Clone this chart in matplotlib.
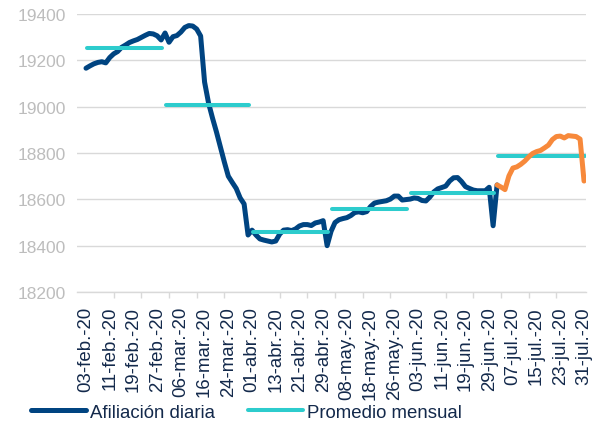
import numpy as np
import matplotlib
matplotlib.use("Agg")
import matplotlib.pyplot as plt
from matplotlib.ticker import FixedLocator

plt.rcParams['font.family'] = ['Liberation Sans', 'DejaVu Sans']

# afiliacion diaria (miles), dias habiles por mes
feb = [19166, 19176, 19185, 19191, 19194, 19189, 19212, 19228, 19238, 19256,
       19266, 19277, 19284, 19290, 19299, 19308, 19316, 19314, 19306, 19288]
mar = [19318, 19278, 19302, 19307, 19322, 19342, 19350, 19348, 19335, 19305,
       19106, 19016, 18951, 18891, 18826, 18761, 18700, 18673, 18647, 18606,
       18580, 18446]
abr = [18467, 18446, 18429, 18424, 18420, 18416, 18420, 18450, 18467, 18469,
       18465, 18472, 18485, 18491, 18491, 18487, 18498, 18502, 18508, 18400]
may = [18462, 18500, 18512, 18517, 18521, 18530, 18543, 18546, 18542, 18547,
       18569, 18584, 18588, 18591, 18594, 18601, 18614, 18614, 18597, 18599]
jun = [18601, 18606, 18604, 18595, 18593, 18610, 18632, 18645, 18651, 18657,
       18679, 18693, 18694, 18677, 18655, 18647, 18640, 18637, 18637, 18637,
       18652, 18486]
jul = [18662, 18653, 18642, 18701, 18735, 18740, 18751, 18765, 18783, 18798,
       18806, 18811, 18822, 18834, 18858, 18871, 18873, 18865, 18875, 18873,
       18871, 18860, 18679]

promedio = [19252, 19007, 18460, 18558, 18626, 18788]

etiquetas = ['03-feb.-20', '11-feb.-20', '19-feb.-20', '27-feb.-20', '06-mar.-20',
             '16-mar.-20', '24-mar.-20', '01-abr.-20', '13-abr.-20', '21-abr.-20',
             '29-abr.-20', '08-may.-20', '18-may.-20', '26-may.-20', '03-jun.-20',
             '11-jun.-20', '19-jun.-20', '29-jun.-20', '07-jul.-20', '15-jul.-20',
             '23-jul.-20', '31-jul.-20']

meses = [feb, mar, abr, may, jun, jul]
diaria = np.concatenate(meses)
x = np.arange(len(diaria))
n_jul = len(diaria) - len(jul)

azul = '#004481'
aqua = '#2DCCCD'
naranja = '#F7893B'
texto = '#13294B'

fig = plt.figure(figsize=(6.05, 4.27), dpi=100)
ax = fig.add_axes([77 / 605, 1 - 293 / 427, 509 / 605, 278 / 427])

ax.plot(x[:n_jul + 1], diaria[:n_jul + 1], color=azul, lw=3.6,
        solid_joinstyle='round', solid_capstyle='round', zorder=3,
        label='Afiliación diaria')

# promedio mensual: un tramo por mes
inicio = 0
for i, (m, p) in enumerate(zip(meses, promedio)):
    fin = inicio + len(m) - 1
    ax.plot([inicio + 0.3, fin + 0.2], [p, p], color=aqua, lw=2.9,
            solid_capstyle='round', zorder=4,
            label='Promedio mensual' if i == 0 else None)
    inicio = fin + 1

ax.plot(x[n_jul:], diaria[n_jul:], color=naranja, lw=3.6,
        solid_joinstyle='round', solid_capstyle='round', zorder=5)

ax.set_ylim(18200, 19400)
ax.set_yticks(np.arange(18200, 19401, 200))
ax.set_xlim(-2.28, 126.5)

ax.grid(axis='y', color='#D9D9D9', lw=1)
ax.set_axisbelow(True)
for s in ['top', 'right', 'left']:
    ax.spines[s].set_visible(False)
ax.spines['bottom'].set_color('#D9D9D9')
ax.spines['bottom'].set_linewidth(1)

# etiquetas cada 6 dias, marcas cada 7
ax.xaxis.set_major_locator(FixedLocator(np.arange(0, len(diaria), 6)))
ax.set_xticklabels(etiquetas, rotation=90, fontsize=13.4, color=texto)
ax.xaxis.set_minor_locator(FixedLocator(np.arange(0, len(diaria), 7)))
ax.tick_params(axis='x', which='major', length=0, pad=10)
ax.tick_params(axis='x', which='minor', length=4, color='#D9D9D9', width=1)
ax.tick_params(axis='y', length=0, pad=8, labelsize=12.5, labelcolor='#BDBDBD')

fig.legend(loc='center left', bbox_to_anchor=(31 / 605, 1 - 413 / 427),
           ncol=2, frameon=False, fontsize=13.4, labelcolor=texto,
           handlelength=2.95, handletextpad=0.2, columnspacing=1.8,
           borderpad=0, borderaxespad=0)

fig.savefig('out.png', dpi=100)
